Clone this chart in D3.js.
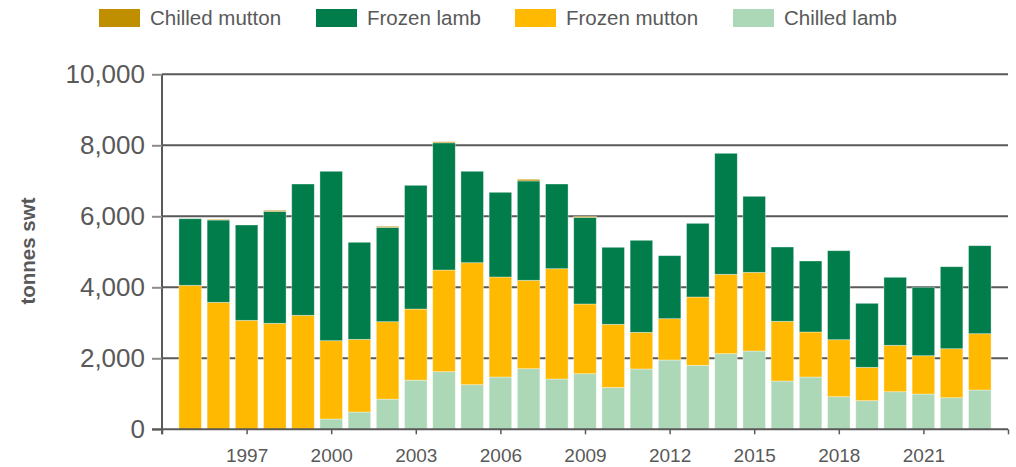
<!DOCTYPE html>
<html lang="en">
<head>
<meta charset="UTF-8">
<title>Sheepmeat exports, tonnes swt</title>
<script src="https://cdn.jsdelivr.net/npm/d3@7"></script>
<style>
  body { margin: 0; background: #fff; }
  svg text { font-family: "Liberation Sans", Arial, sans-serif; fill: #595959; }
</style>
</head>
<body>
<svg id="chart" width="1016" height="467"></svg>
<script>
// values, tonnes swt
var years = [1995, 1996, 1997, 1998, 1999, 2000, 2001, 2002, 2003, 2004,
             2005, 2006, 2007, 2008, 2009, 2010, 2011, 2012, 2013, 2014,
             2015, 2016, 2017, 2018, 2019, 2020, 2021, 2022, 2023];
var chilledLamb   = [0, 0, 0, 0, 0, 290, 487, 850, 1385, 1623,
                     1257, 1473, 1707, 1417, 1566, 1178, 1699, 1952, 1803, 2130,
                     2206, 1361, 1473, 918, 806, 1059, 994, 890, 1107];
var frozenMutton  = [4056, 3577, 3070, 2986, 3211, 2206, 2048, 2181, 2004, 2864,
                     3436, 2817, 2490, 3107, 1964, 1780, 1033, 1164, 1924, 2236,
                     2216, 1681, 1268, 1606, 940, 1307, 1079, 1380, 1586];
var frozenLamb    = [1876, 2318, 2685, 3153, 3699, 4772, 2733, 2657, 3484, 3584,
                     2575, 2386, 2800, 2386, 2440, 2169, 2592, 1775, 2075, 3409,
                     2141, 2093, 2000, 2507, 1803, 1916, 1927, 2310, 2479];
var chilledMutton = [0, 20, 0, 30, 0, 0, 0, 30, 0, 30,
                     0, 0, 45, 0, 30, 0, 0, 0, 0, 0,
                     0, 0, 0, 0, 0, 0, 0, 0, 0];
var yTicks = [0, 2000, 4000, 6000, 8000, 10000];
var xTicks = [1997, 2000, 2003, 2006, 2009, 2012, 2015, 2018, 2021];

// stacking order bottom -> top, legend runs the other way
var keys = ["Chilled lamb", "Frozen mutton", "Frozen lamb", "Chilled mutton"];
var colors = {
  "Chilled lamb": "#acd8b7",
  "Frozen mutton": "#ffb900",
  "Frozen lamb": "#007d4b",
  "Chilled mutton": "#bf8f00"
};
var legendOrder = ["Chilled mutton", "Frozen lamb", "Frozen mutton", "Chilled lamb"];
var legendX = [99, 316, 515, 733];

var rows = years.map(function(yr, i) {
  return {
    year: yr,
    "Chilled lamb": chilledLamb[i],
    "Frozen mutton": frozenMutton[i],
    "Frozen lamb": frozenLamb[i],
    "Chilled mutton": chilledMutton[i]
  };
});
var series = d3.stack().keys(keys)(rows);

var svg = d3.select("#chart");
var plotL = 162, plotR = 1008, plotT = 74.3, plotB = 429.3;

var x = d3.scaleLinear().domain([1994, 2024]).range([plotL, plotR]);
var y = d3.scaleLinear().domain([0, 10000]).range([plotB, plotT]);
var barW = (x(1995) - x(1994)) * 0.8;

// gridlines
svg.append("g")
  .selectAll("line")
  .data(yTicks.filter(function(d) { return d > 0; }))
  .join("line")
  .attr("x1", plotL).attr("x2", plotR)
  .attr("y1", function(d) { return y(d); })
  .attr("y2", function(d) { return y(d); })
  .attr("stroke", "#595959")
  .attr("stroke-width", 2);

// bars
svg.append("g")
  .selectAll("g")
  .data(series)
  .join("g")
  .attr("fill", function(s) { return colors[s.key]; })
  .selectAll("rect")
  .data(function(s) { return s; })
  .join("rect")
  .attr("x", function(d) { return x(d.data.year) - barW / 2; })
  .attr("width", barW)
  .attr("y", function(d) { return y(d[1]); })
  .attr("height", function(d) { return Math.max(0, y(d[0]) - y(d[1])); })
  .attr("stroke", "#ffffff")
  .attr("stroke-opacity", 0.45)
  .attr("stroke-width", 0.8);

// y axis
var yAxis = svg.append("g").attr("transform", "translate(" + plotL + ",0)")
  .call(d3.axisLeft(y).tickValues(yTicks).tickSize(10).tickPadding(7)
    .tickFormat(d3.format(",")));
yAxis.select(".domain").attr("stroke", "#595959").attr("stroke-width", 2)
  .attr("d", "M0," + plotT + "V" + (plotB + 5));
yAxis.selectAll(".tick line").attr("stroke", "#8c8c8c").attr("stroke-width", 2);
yAxis.selectAll(".tick text").attr("font-size", 26).style("fill", "#595959");

// x axis
var xAxis = svg.append("g").attr("transform", "translate(0," + plotB + ")")
  .call(d3.axisBottom(x).tickValues([1994].concat(xTicks, [2024])).tickSize(5).tickPadding(14)
    .tickFormat(function(d) { return (d === 1994 || d === 2024) ? "" : d; }));
xAxis.select(".domain").attr("stroke", "#595959").attr("stroke-width", 2)
  .attr("d", "M" + (plotL - 10) + ",0H" + plotR);
xAxis.selectAll(".tick line").attr("stroke", "#595959").attr("stroke-width", 1.5);
xAxis.selectAll(".tick text").attr("font-size", 19).style("fill", "#595959");

// axis title
svg.append("text")
  .attr("transform", "translate(35,251) rotate(-90)")
  .attr("text-anchor", "middle")
  .attr("font-size", 20.5)
  .attr("font-weight", "bold")
  .text("tonnes swt");

// legend
var leg = svg.append("g")
  .selectAll("g")
  .data(legendOrder)
  .join("g")
  .attr("transform", function(d, i) { return "translate(" + legendX[i] + ",9)"; });
leg.append("rect")
  .attr("width", 41).attr("height", 18)
  .attr("fill", function(d) { return colors[d]; });
leg.append("text")
  .attr("x", 51).attr("y", 9).attr("dy", "0.35em")
  .attr("font-size", 20.5)
  .text(function(d) { return d; });
</script>
</body>
</html>
